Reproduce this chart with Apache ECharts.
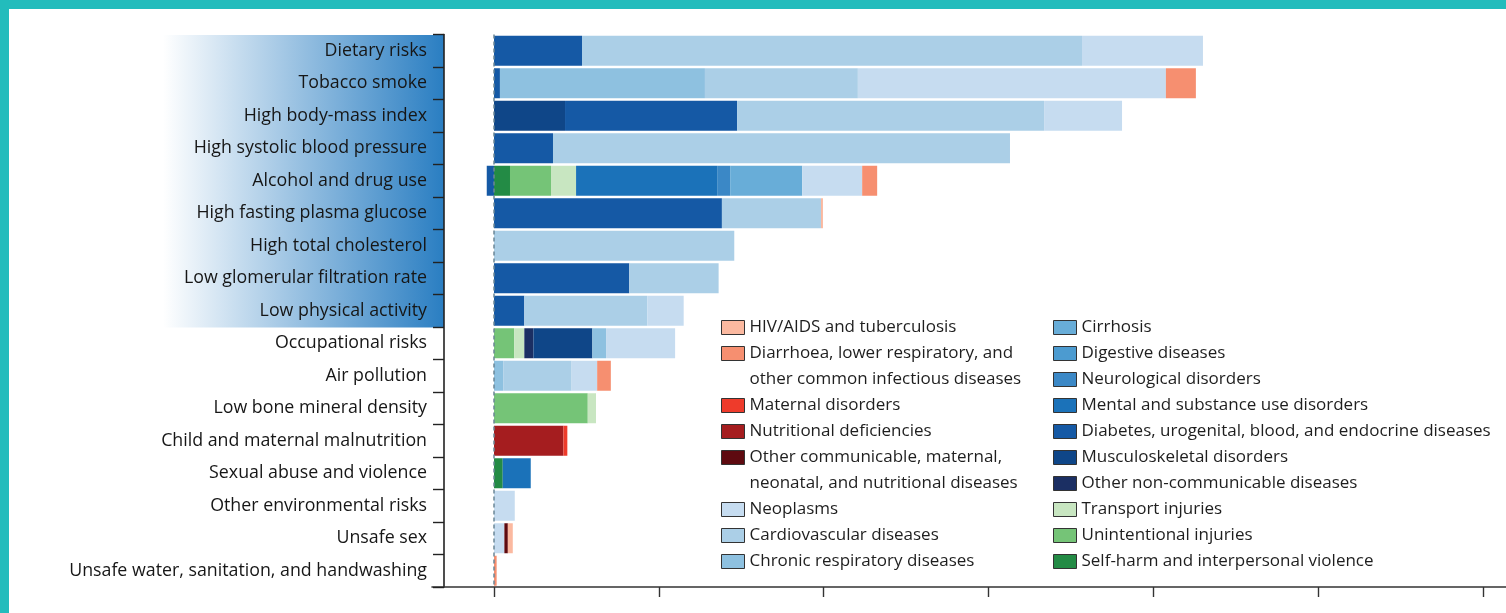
<!DOCTYPE html>
<html>
<head>
<meta charset="utf-8">
<script src="https://cdn.jsdelivr.net/npm/echarts@6/dist/echarts.min.js"></script>
<style>
html,body{margin:0;padding:0;background:#ffffff;}
#chart{width:1506px;height:613px;}
</style>
</head>
<body>
<div id="chart"></div>
<script>
// ---------- DATA ----------
const categories = [
  'Dietary risks', 'Tobacco smoke', 'High body-mass index', 'High systolic blood pressure',
  'Alcohol and drug use', 'High fasting plasma glucose', 'High total cholesterol',
  'Low glomerular filtration rate', 'Low physical activity', 'Occupational risks',
  'Air pollution', 'Low bone mineral density', 'Child and maternal malnutrition',
  'Sexual abuse and violence', 'Other environmental risks', 'Unsafe sex',
  'Unsafe water, sanitation, and handwashing'
];

// values per cause, one per risk factor (same order as categories); 1 unit = one x tick
const selfHarm      = [0,     0,     0,     0,     0.097, 0,     0,     0,     0,     0,     0,     0,     0,     0.053, 0,     0,     0];
const unintentional = [0,     0,     0,     0,     0.249, 0,     0,     0,     0,     0.123, 0,     0.569, 0,     0,     0,     0,     0];
const transport     = [0,     0,     0,     0,     0.152, 0,     0,     0,     0,     0.061, 0,     0.050, 0,     0,     0,     0,     0];
const otherNCD      = [0,     0,     0,     0,     0,     0,     0,     0,     0,     0.055, 0,     0,     0,     0,     0,     0,     0];
const musculo       = [0,     0,     0.431, 0,     0,     0,     0,     0,     0,     0.358, 0,     0,     0,     0,     0,     0,     0];
const diabetes      = [0.534, 0.036, 1.044, 0.358, -0.044,1.383, 0,     0.821, 0.184, 0,     0,     0,     0,     0,     0,     0,     0];
const mental        = [0,     0,     0,     0,     0.856, 0,     0,     0,     0,     0,     0,     0,     0,     0.170, 0,     0,     0];
const neuro         = [0,     0,     0,     0,     0.079, 0,     0,     0,     0,     0,     0,     0,     0,     0,     0,     0,     0];
const digestive     = [0,     0,     0,     0,     0,     0,     0,     0,     0,     0,     0,     0,     0,     0,     0,     0,     0];
const cirrhosis     = [0,     0,     0,     0,     0.437, 0,     0,     0,     0,     0,     0,     0,     0,     0,     0,     0,     0];
const chronicResp   = [0,     1.244, 0,     0,     0,     0,     0,     0,     0,     0.083, 0.056, 0,     0,     0,     0,     0,     0];
const cardio        = [3.034, 0.928, 1.863, 2.773, 0,     0.601, 1.458, 0.542, 0.746, 0,     0.415, 0,     0,     0,     0,     0,     0];
const neoplasms     = [0.734, 1.869, 0.473, 0,     0.364, 0,     0,     0,     0.221, 0.419, 0.155, 0,     0,     0,     0.126, 0.063, 0];
const otherComm     = [0,     0,     0,     0,     0,     0,     0,     0,     0,     0,     0,     0,     0,     0,     0,     0.021, 0];
const nutritional   = [0,     0,     0,     0,     0,     0,     0,     0,     0,     0,     0,     0,     0.421, 0,     0,     0,     0];
const maternal      = [0,     0,     0,     0,     0,     0,     0,     0,     0,     0,     0,     0,     0.024, 0,     0,     0,     0];
const diarrhoea     = [0,     0.182, 0,     0,     0.091, 0,     0,     0,     0,     0,     0.083, 0,     0,     0,     0,     0,     0.016];
const hiv           = [0,     0,     0,     0,     0,     0.012, 0,     0,     0,     0,     0,     0,     0,     0,     0,     0.030, 0];

const xTicks = [0, 1, 2, 3, 4, 5, 6];

// stacking order (left to right)
const causeNames = [
  'Self-harm and interpersonal violence', 'Unintentional injuries', 'Transport injuries',
  'Other non-communicable diseases', 'Musculoskeletal disorders',
  'Diabetes, urogenital, blood, and endocrine diseases', 'Mental and substance use disorders',
  'Neurological disorders', 'Digestive diseases', 'Cirrhosis', 'Chronic respiratory diseases',
  'Cardiovascular diseases', 'Neoplasms',
  'Other communicable, maternal,\nneonatal, and nutritional diseases',
  'Nutritional deficiencies', 'Maternal disorders',
  'Diarrhoea, lower respiratory, and\nother common infectious diseases',
  'HIV/AIDS and tuberculosis'
];
const causeValues = [selfHarm, unintentional, transport, otherNCD, musculo, diabetes, mental,
  neuro, digestive, cirrhosis, chronicResp, cardio, neoplasms, otherComm, nutritional, maternal,
  diarrhoea, hiv];
const causeColors = ['#238b45', '#75c477', '#c8e6c1', '#1b2f63', '#0f4688', '#1559a5', '#1b72b9',
  '#3b88c6', '#4c9bd0', '#68add8', '#8ec1e0', '#abcfe7', '#c6dcf0', '#5e0a10', '#a51d1f', '#ee3b2b',
  '#f68f70', '#fbb9a0'];

// ---------- CHART ----------
const FONT = 'Open Sans';
const chart = echarts.init(document.getElementById('chart'), null, {renderer: 'canvas'});

const series = causeNames.map((name, i) => {
  const s = {
    name: name,
    type: 'bar',
    stack: 'total',
    barWidth: 30,
    data: causeValues[i],
    itemStyle: {color: causeColors[i]},
    emphasis: {disabled: true},
    animation: false
  };
  if (i === 0) {
    s.markLine = {
      silent: true,
      symbol: 'none',
      z: 10,
      label: {show: false},
      lineStyle: {color: '#6b8796', type: [4, 3], width: 1.5},
      data: [{xAxis: 0}]
    };
  }
  return s;
});

const legendBase = {
  orient: 'vertical',
  padding: 0,
  itemWidth: 23,
  itemHeight: 14,
  itemGap: 0,
  icon: 'rect',
  selectedMode: false,
  itemStyle: {borderColor: '#333333', borderWidth: 1},
  textStyle: {fontFamily: FONT, fontSize: 17, color: '#1e1e1e', lineHeight: 26}
};
// empty first line keeps the first text line level with the icon
const twoLineFormatter = (name) => '\n' + name;

const legends = [
  Object.assign({}, legendBase, {left: 721, top: 314.5, data: ['HIV/AIDS and tuberculosis']}),
  Object.assign({}, legendBase, {left: 721, top: 353.5 - 39, formatter: twoLineFormatter,
    data: ['Diarrhoea, lower respiratory, and\nother common infectious diseases']}),
  Object.assign({}, legendBase, {left: 721, top: 392.5, data: ['Maternal disorders', 'Nutritional deficiencies']}),
  Object.assign({}, legendBase, {left: 721, top: 457.5 - 39, formatter: twoLineFormatter,
    data: ['Other communicable, maternal,\nneonatal, and nutritional diseases']}),
  Object.assign({}, legendBase, {left: 721, top: 496.5, data: ['Neoplasms', 'Cardiovascular diseases', 'Chronic respiratory diseases']}),
  Object.assign({}, legendBase, {left: 1053, top: 314.5, data: [
    'Cirrhosis', 'Digestive diseases', 'Neurological disorders', 'Mental and substance use disorders',
    'Diabetes, urogenital, blood, and endocrine diseases', 'Musculoskeletal disorders',
    'Other non-communicable diseases', 'Transport injuries', 'Unintentional injuries',
    'Self-harm and interpersonal violence']})
];

const option = {
  backgroundColor: '#ffffff',
  animation: false,
  textStyle: {fontFamily: FONT},
  grid: {left: 432, right: 0, top: 34.5, bottom: 26, containLabel: false},
  xAxis: {
    type: 'value',
    min: -0.3762,
    max: 6.1408,
    axisLine: {show: true, lineStyle: {color: '#333333', width: 1.6}},
    axisTick: {show: true, customValues: xTicks, length: 10, lineStyle: {color: '#333333', width: 1.4}},
    axisLabel: {show: false},
    splitLine: {show: false}
  },
  yAxis: {
    type: 'category',
    inverse: true,
    data: categories,
    offset: -12,
    axisLine: {show: true, onZero: false, lineStyle: {color: '#222222', width: 1.6}},
    axisTick: {show: true, length: 11, lineStyle: {color: '#222222', width: 1.4}},
    axisLabel: {margin: 17, color: '#161616', fontFamily: FONT, fontSize: 17.8}
  },
  legend: legends,
  graphic: [
    {
      type: 'rect', silent: true, z: -10,
      left: 163, top: 35,
      shape: {width: 281, height: 292.5},
      style: {fill: new echarts.graphic.LinearGradient(0, 0, 1, 0, [
        {offset: 0, color: '#ffffff'},
        {offset: 1, color: '#2a7ec2'}
      ])}
    },
    {type: 'rect', silent: true, z: 100, left: 0, top: 0, shape: {width: 1506, height: 9}, style: {fill: '#22bcbc'}},
    {type: 'rect', silent: true, z: 100, left: 0, top: 0, shape: {width: 9, height: 613}, style: {fill: '#22bcbc'}}
  ],
  series: series
};
chart.setOption(option);
</script>
</body>
</html>
